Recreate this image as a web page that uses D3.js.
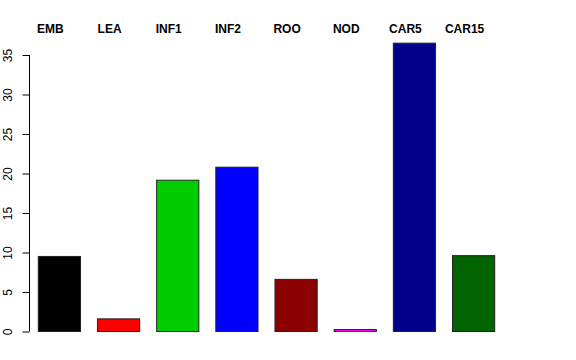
<!DOCTYPE html>
<html>
<head>
<meta charset="utf-8">
<script src="https://cdn.jsdelivr.net/npm/d3@7"></script>
<style>
  body { margin: 0; background: #fff; }
  svg { display: block; font-family: "Liberation Sans", Arial, sans-serif; }
</style>
</head>
<body>
<div id="chart"></div>
<script>
// tissue groups and their values
var tissues = ["EMB", "LEA", "INF1", "INF2", "ROO", "NOD", "CAR5", "CAR15"];
var values = [9.5, 1.6, 19.15, 20.8, 6.6, 0.25, 36.5, 9.6];
var colors = ["#000000", "#FF0000", "#00CD00", "#0000FF", "#8B0000", "#FF00FF", "#00008B", "#006400"];
var yTicks = [0, 5, 10, 15, 20, 25, 30, 35];

var width = 576, height = 360;

var svg = d3.select("#chart")
    .append("svg")
    .attr("width", width)
    .attr("height", height);

var xScale = d3.scaleBand()
    .domain(tissues)
    .range([38.3, 494.7])
    .paddingInner(0.287)
    .paddingOuter(0);

var yScale = d3.scaleLinear()
    .domain([0, 35])
    .range([331.5, 55]);

// bars
svg.append("g")
    .selectAll("rect")
    .data(tissues)
    .enter()
    .append("rect")
    .attr("x", function (d) { return xScale(d); })
    .attr("y", function (d, i) { return yScale(values[i]); })
    .attr("width", xScale.bandwidth())
    .attr("height", function (d, i) { return yScale(0) - yScale(values[i]); })
    .attr("fill", function (d, i) { return colors[i]; })
    .attr("stroke", "#222")
    .attr("stroke-width", 1);

// y axis, R style with rotated labels
var yAxis = svg.append("g")
    .attr("transform", "translate(29.5,0)")
    .call(d3.axisLeft(yScale).tickValues(yTicks).tickSize(7).tickPadding(0).tickFormat(d3.format("d")));
yAxis.select(".domain")
    .attr("d", "M0," + yScale(0) + "V" + yScale(35))
    .attr("stroke", "#000");
yAxis.selectAll(".tick line").attr("stroke", "#000");
yAxis.selectAll(".tick text")
    .attr("x", null)
    .attr("dy", null)
    .attr("transform", "translate(-18,0) rotate(-90)")
    .attr("text-anchor", "middle")
    .attr("font-size", 12)
    .attr("font-family", "Liberation Sans, Arial, sans-serif")
    .attr("fill", "#000");

// group labels on top
svg.append("g")
    .selectAll("text")
    .data(tissues)
    .enter()
    .append("text")
    .attr("x", function (d) { return xScale(d) + xScale.bandwidth() / 2 - 9; })
    .attr("y", 33)
    .attr("text-anchor", "middle")
    .attr("font-size", 12)
    .attr("font-weight", "bold")
    .attr("fill", "#000")
    .text(function (d) { return d; });
</script>
</body>
</html>
